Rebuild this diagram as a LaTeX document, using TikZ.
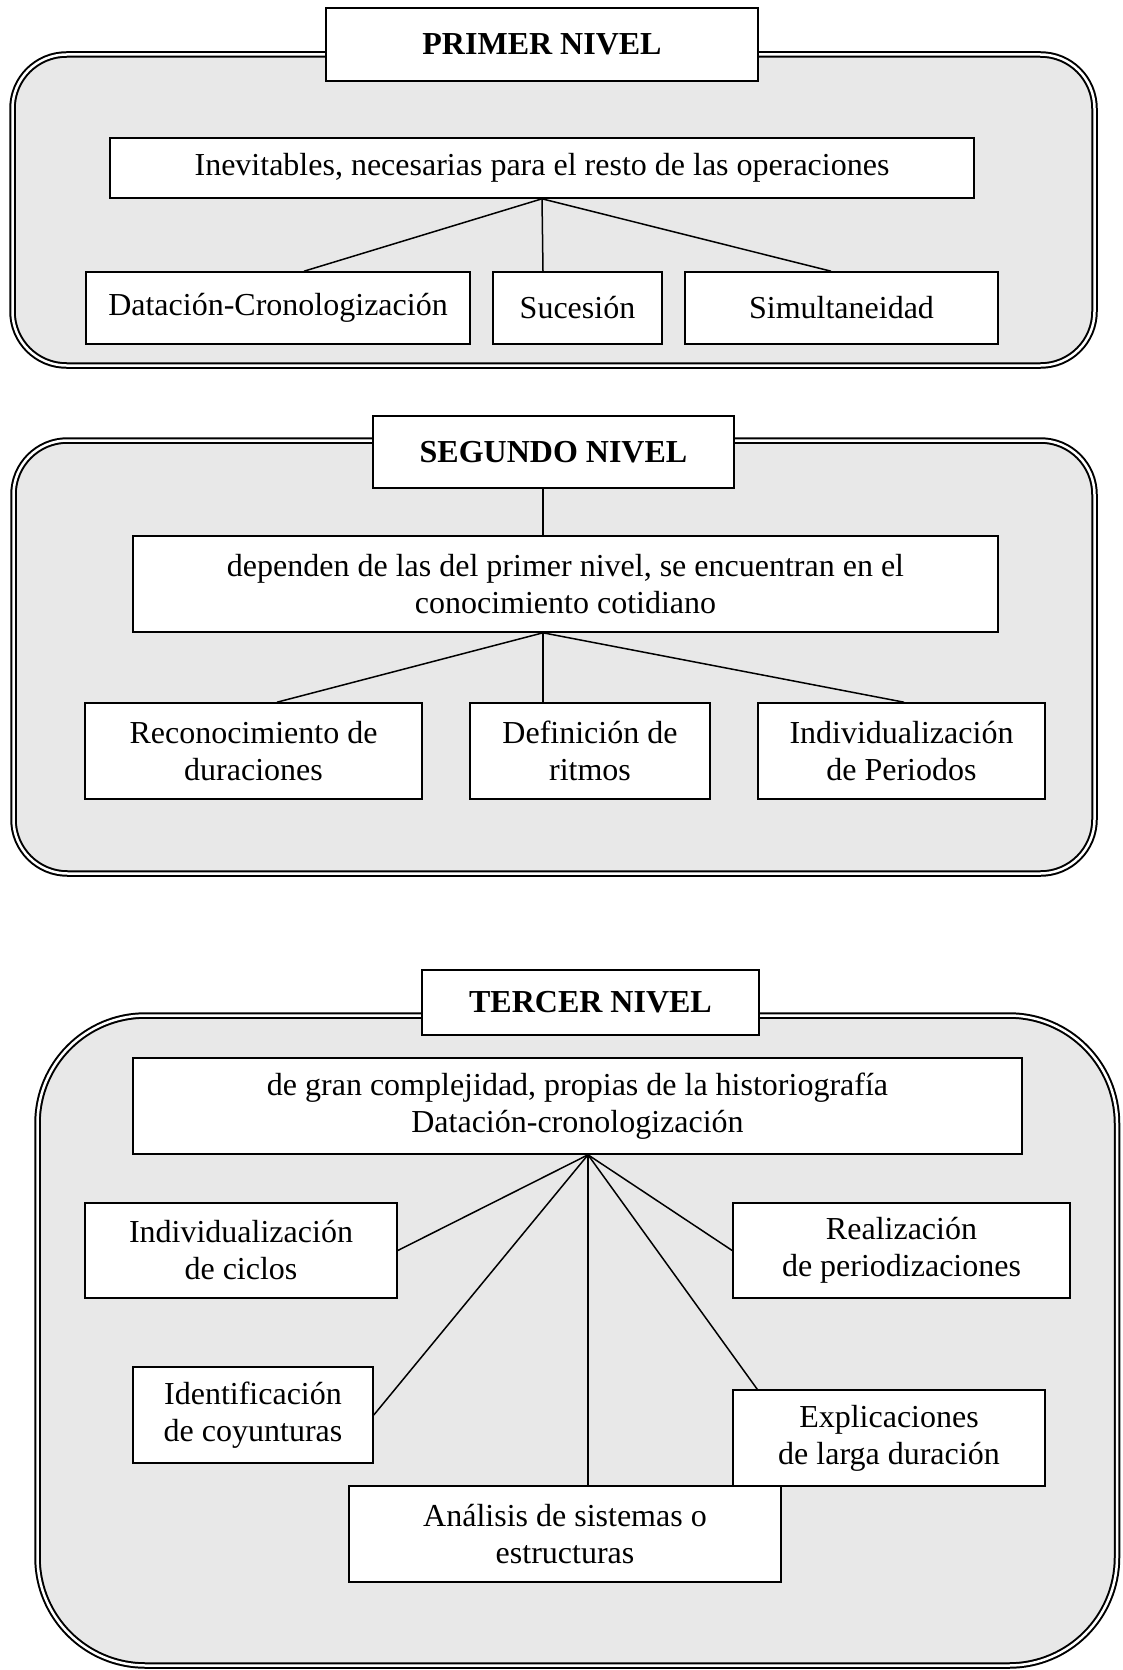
\documentclass[tikz,border=0pt]{standalone}
\usepackage{fontspec}
\setmainfont{Liberation Serif}
\begin{document}
\begin{tikzpicture}[x=1pt,y=-1pt,
  panel/.style={draw=black, double=white, double distance=2.5pt, line width=2pt, fill=panelgray},
  box/.style={draw=black, line width=1.6pt, fill=white, inner sep=0pt, align=center,
    font=\fontsize{32}{37}\selectfont},
  titlebox/.style={box, font=\fontsize{32}{37}\selectfont\bfseries},
  conn/.style={draw=black, line width=1.5pt}]
\definecolor{panelgray}{RGB}{232,232,232}
\useasboundingbox (0,0) rectangle (1123,1670);
% panels
\path[panel, rounded corners=54pt] (12.5,54.5) rectangle (1094.5,365.5);
\path[panel, rounded corners=54pt] (13.5,440.5) rectangle (1094.5,873.5);
\path[panel, rounded corners=108pt] (37.5,1015.5) rectangle (1117,1665.5);

% ---------- Primer nivel ----------
\node[titlebox, minimum width=432pt, minimum height=73pt] (t1) at (542,44.5) {PRIMER NIVEL};
\node[box, minimum width=864pt, minimum height=60pt] (b1) at (542,168) {Inevitables, necesarias para el resto de las operaciones};
\node[box, minimum width=384pt, minimum height=72pt] (d1) at (278,308) {Datación-Cronologización};
\node[box, minimum width=169pt, minimum height=72pt] (s1) at (577.5,308) {Sucesión};
\node[box, minimum width=313pt, minimum height=72pt] (m1) at (841.5,308) {Simultaneidad};
\draw[conn] (b1.south) -- ([xshift=26pt]d1.north);
\draw[conn] (b1.south) -- ([xshift=-34.5pt]s1.north);
\draw[conn] (b1.south) -- ([xshift=-10.5pt]m1.north);

% ---------- Segundo nivel ----------
\node[titlebox, minimum width=361pt, minimum height=72pt] (t2) at (553.5,452) {SEGUNDO NIVEL};
\node[box, minimum width=865pt, minimum height=96pt] (b2) at (565.5,584) {dependen de las del primer nivel, se encuentran en el\\conocimiento cotidiano};
\node[box, minimum width=337pt, minimum height=96pt] (r2) at (253.5,751) {Reconocimiento de\\duraciones};
\node[box, minimum width=240pt, minimum height=96pt] (d2) at (590,751) {Definición de\\ritmos};
\node[box, minimum width=287pt, minimum height=96pt] (i2) at (901.5,751) {Individualización\\de Periodos};
\draw[conn] ([xshift=-10.5pt]t2.south) -- ([xshift=-22.5pt]b2.north);
\draw[conn] ([xshift=-22.5pt]b2.south) -- ([xshift=23.5pt]r2.north);
\draw[conn] ([xshift=-22.5pt]b2.south) -- ([xshift=-47pt]d2.north);
\draw[conn] ([xshift=-22.5pt]b2.south) -- ([xshift=2.5pt]i2.north);

% ---------- Tercer nivel ----------
\node[titlebox, minimum width=337pt, minimum height=65pt] (t3) at (590.5,1002.5) {TERCER NIVEL};
\node[box, minimum width=889pt, minimum height=96pt] (b3) at (577.5,1106) {de gran complejidad, propias de la historiografía\\Datación-cronologización};
\node[box, minimum width=312pt, minimum height=95pt] (c1) at (241,1250.5) {Individualización\\de ciclos};
\node[box, minimum width=337pt, minimum height=95pt] (c2) at (901.5,1250.5) {Realización\\de periodizaciones};
\node[box, minimum width=240pt, minimum height=96pt] (c3) at (253,1415) {Identificación\\de coyunturas};
\node[box, minimum width=312pt, minimum height=96pt] (c4) at (889,1438) {Explicaciones\\de larga duración};
\node[box, minimum width=432pt, minimum height=96pt] (c5) at (565,1534) {Análisis de sistemas o\\estructuras};
\coordinate (o3) at ([xshift=10.5pt]b3.south);
\draw[conn] (o3) -- (c1.east);
\draw[conn] (o3) -- (c2.west);
\draw[conn] (o3) -- (c3.east);
\draw[conn] (o3) -- ([xshift=25pt]c4.north west);
\draw[conn] (o3) -- ([xshift=23pt]c5.north);
\end{tikzpicture}
\end{document}
